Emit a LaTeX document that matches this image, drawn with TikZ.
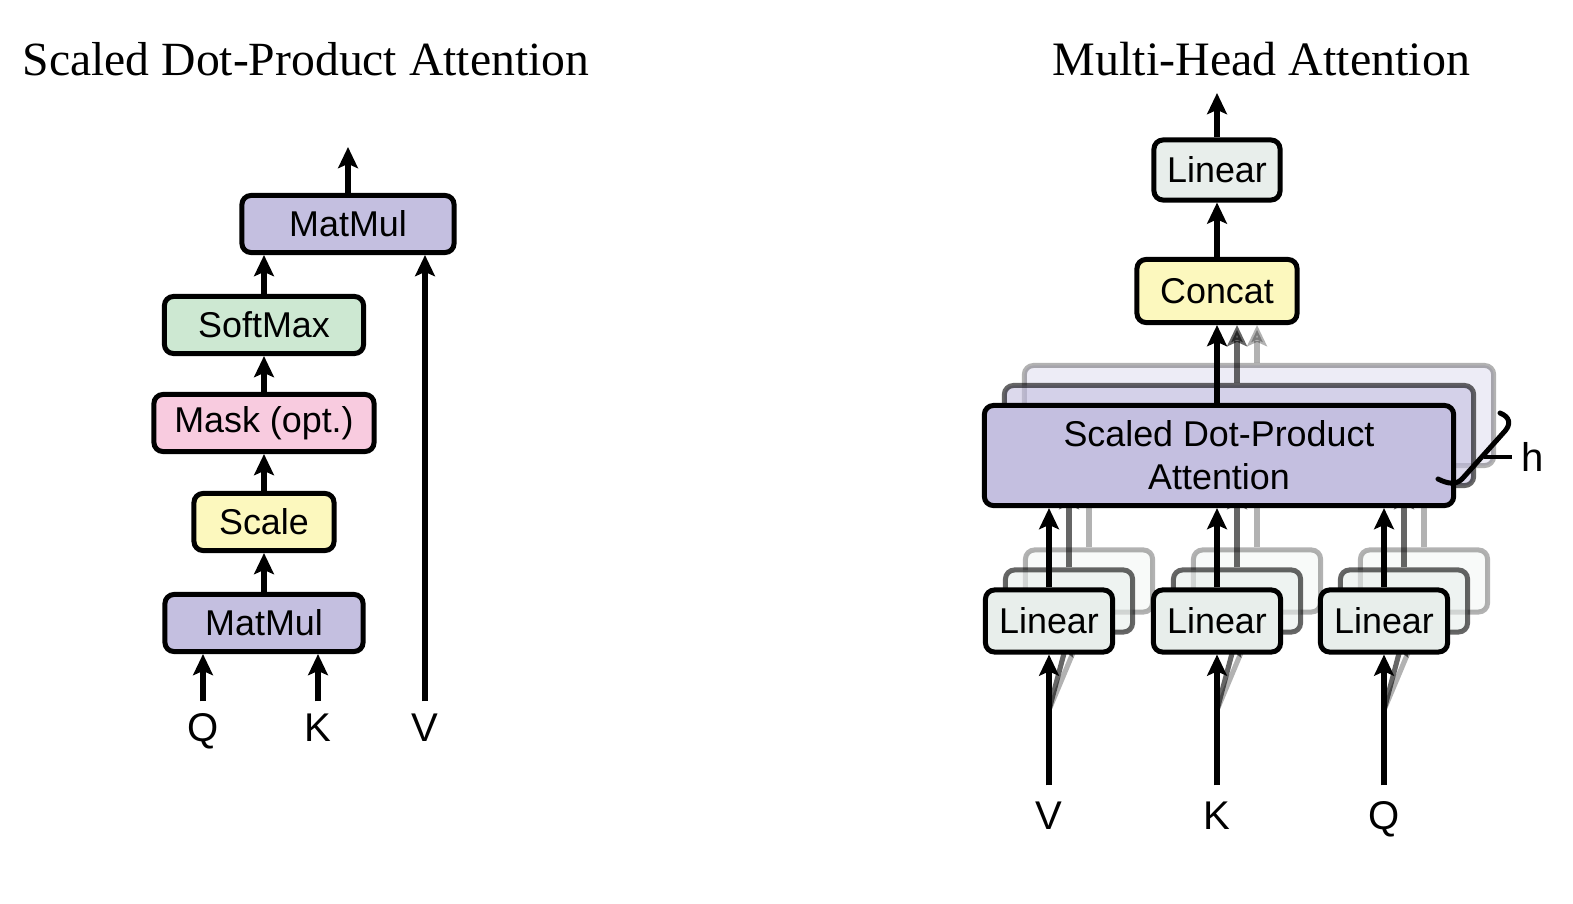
\documentclass[tikz,border=0pt]{standalone}
\usepackage{fontspec}
\setmainfont{Liberation Serif}
\setsansfont{Liberation Sans}
\usetikzlibrary{arrows.meta}
\definecolor{mmpurple}{RGB}{196,191,224}
\definecolor{smgreen}{RGB}{205,232,210}
\definecolor{mkpink}{RGB}{248,203,223}
\definecolor{scyellow}{RGB}{252,248,190}
\definecolor{lngray}{RGB}{232,238,235}

\begin{document}
\begin{tikzpicture}[x=0.01cm,y=-0.01cm]
	\tikzstyle{every node}+=[inner sep=0pt]
	\tikzstyle{box}=[draw=black, line width=1.42pt, rounded corners=0.09cm, minimum height=0.57cm, align=center, font=\sffamily\fontsize{10.2}{12.2}\selectfont]
	\tikzstyle{arr}=[line width=1.45pt, -{Stealth[length=6pt,width=5.6pt,inset=1.2pt]}]
	\tikzstyle{lbl}=[font=\sffamily\fontsize{11.4}{13}\selectfont, text height=0.29cm, text depth=0pt]
	\tikzstyle{ghost1}=[opacity=0.6]
	\tikzstyle{ghost2}=[opacity=0.3]
	\useasboundingbox (0,0) rectangle (1573,903);
	\node[anchor=base west, font=\fontsize{13.55}{16}\selectfont] (t1) at (22,75) {Scaled Dot-Product Attention};
	\node[anchor=base west, font=\fontsize{13.65}{16}\selectfont] (t2) at (1052,75) {Multi-Head Attention};
	\node[box, fill=mmpurple, minimum width=2.12cm] (mm2) at (348,224) {MatMul};
	\node[box, fill=smgreen, minimum width=1.99cm] (sm) at (264,325) {SoftMax};
	\node[box, fill=mkpink, minimum width=2.20cm] (mask) at (264,423) {Mask (opt.)};
	\node[box, fill=scyellow, minimum width=1.40cm] (scale) at (264,522) {Scale};
	\node[box, fill=mmpurple, minimum width=1.98cm] (mm1) at (264,623) {MatMul};
	\node[lbl, outer sep=0.11cm] (q1) at (203,727) {Q};
	\node[lbl, outer sep=0.11cm] (k1) at (318,727) {K};
	\node[lbl, outer sep=0.11cm] (v1) at (425,727) {V};
	\coordinate (o1) at (348,147);
	\draw[arr] (q1.north) -- (q1.north |- mm1.south);
	\draw[arr] (k1.north) -- (k1.north |- mm1.south);
	\draw[arr] (v1.north) -- (v1.north |- mm2.south);
	\draw[arr] (mm1) -- (scale);
	\draw[arr] (scale) -- (mask);
	\draw[arr] (mask) -- (sm);
	\draw[arr] (sm.north) -- (sm.north |- mm2.south);
	\draw[arr] (mm2) -- (o1);
	\node[box, fill=lngray, minimum width=1.26cm, minimum height=0.60cm] (lin) at (1217,170) {Linear};
	\node[box, fill=scyellow, minimum width=1.60cm, minimum height=0.63cm] (concat) at (1217,291) {Concat};
	\coordinate (o2) at (1217,93);
	\draw[arr] (concat) -- (lin);
	\draw[arr] (lin) -- (o2);
	\node[box, fill=mmpurple, ghost2, minimum width=4.69cm, minimum height=1.00cm] (sdpa2) at (1259,415.5) {};
	\draw[arr, ghost2] ([xshift=0.4cm]concat.south |- sdpa2.north) -- ([xshift=0.4cm]concat.south);
	\node[box, fill=mmpurple, ghost1, minimum width=4.69cm, minimum height=1.00cm] (sdpa1) at (1239,435.5) {};
	\draw[arr, ghost1] ([xshift=0.2cm]concat.south |- sdpa1.north) -- ([xshift=0.2cm]concat.south);
	\node[box, fill=lngray, ghost2, minimum width=1.27cm, minimum height=0.62cm] (la2) at (1089,581) {};
	\node[box, fill=lngray, ghost2, minimum width=1.27cm, minimum height=0.62cm] (lb2) at (1257,581) {};
	\node[box, fill=lngray, ghost2, minimum width=1.27cm, minimum height=0.62cm] (lc2) at (1424,581) {};
	\coordinate (sa) at (1049,710);
	\coordinate (sb) at (1217,710);
	\coordinate (sc) at (1384,710);
	\draw[arr, ghost2] (sa) -- (la2.south);
	\draw[arr, ghost2] (sb) -- (lb2.south);
	\draw[arr, ghost2] (sc) -- (lc2.south);
	\draw[arr, ghost2] (la2.north) -- (la2.north |- sdpa2.south);
	\draw[arr, ghost2] (lb2.north) -- (lb2.north |- sdpa2.south);
	\draw[arr, ghost2] (lc2.north) -- (lc2.north |- sdpa2.south);
	\node[box, fill=lngray, ghost1, minimum width=1.27cm, minimum height=0.62cm] (la1) at (1069,601) {};
	\node[box, fill=lngray, ghost1, minimum width=1.27cm, minimum height=0.62cm] (lb1) at (1237,601) {};
	\node[box, fill=lngray, ghost1, minimum width=1.27cm, minimum height=0.62cm] (lc1) at (1404,601) {};
	\draw[arr, ghost1] (sa) -- (la1.south);
	\draw[arr, ghost1] (sb) -- (lb1.south);
	\draw[arr, ghost1] (sc) -- (lc1.south);
	\draw[arr, ghost1] (la1.north) -- (la1.north |- sdpa1.south);
	\draw[arr, ghost1] (lb1.north) -- (lb1.north |- sdpa1.south);
	\draw[arr, ghost1] (lc1.north) -- (lc1.north |- sdpa1.south);
	\node[box, fill=mmpurple, minimum width=4.69cm, minimum height=1.00cm] (sdpa) at (1219,455.5) {Scaled Dot-Product\\Attention};
	\draw[arr] (concat.south |- sdpa.north) -- (concat.south);
	\node[box, fill=lngray, minimum width=1.27cm, minimum height=0.62cm] (la) at (1049,621) {Linear};
	\node[box, fill=lngray, minimum width=1.27cm, minimum height=0.62cm] (lb) at (1217,621) {Linear};
	\node[box, fill=lngray, minimum width=1.27cm, minimum height=0.62cm] (lc) at (1384,621) {Linear};
	\node[lbl, outer sep=0.15cm] (va) at (1049,815) {V};
	\node[lbl, outer sep=0.15cm] (kb) at (1217,815) {K};
	\node[lbl, outer sep=0.15cm] (qc) at (1384,815) {Q};
	\draw[arr] (va) -- (la);
	\draw[arr] (kb) -- (lb);
	\draw[arr] (qc) -- (lc);
	\draw[arr] (la.north) -- (la.north |- sdpa.south);
	\draw[arr] (lb.north) -- (lb.north |- sdpa.south);
	\draw[arr] (lc.north) -- (lc.north |- sdpa.south);
	\draw[line width=1.42pt, line cap=round] (1500,413) .. controls (1510,417) and (1511,424) .. (1505,431) -- (1462,479) .. controls (1456,485) and (1448,484) .. (1438,479);
	\node[lbl, outer sep=0.1cm] (h) at (1533,457) {h};
	\coordinate (hb) at (1484,457);
	\draw[line width=0.9pt] (hb) -- (h);
\end{tikzpicture}
\end{document}
